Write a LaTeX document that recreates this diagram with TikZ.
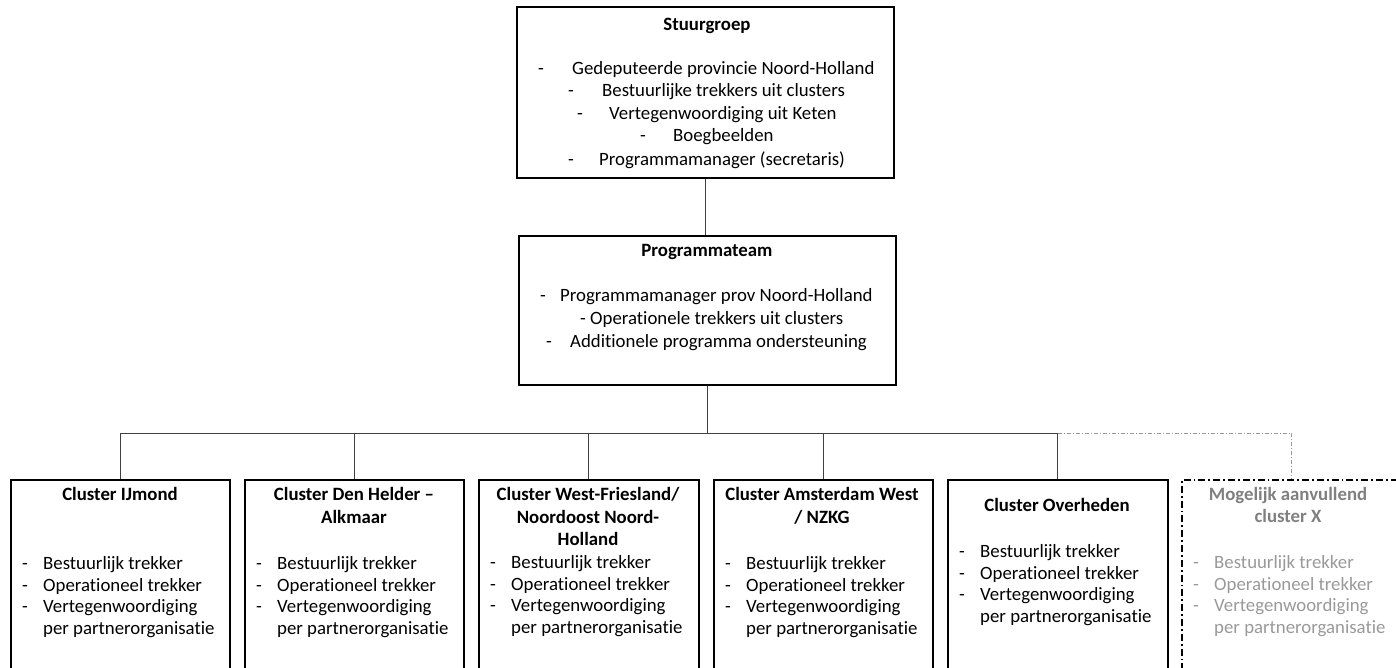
\documentclass[tikz,border=0pt]{standalone}
\usepackage{fontspec}
\setmainfont[Ligatures={NoCommon}]{Carlito}
\begin{document}
\begin{tikzpicture}[x=1pt,y=-1pt,
  box/.style={draw=black,line width=1.6pt,anchor=north west,inner sep=0pt},
  xbox/.style={draw=black,line width=1.6pt,dash pattern=on 7pt off 3pt on 1.8pt off 3pt,anchor=north west,inner sep=0pt},
  txt/.style={inner sep=0pt,font=\fontsize{18.8}{22}\selectfont},
  ttl/.style={txt,font=\fontsize{18.8}{22}\selectfont\bfseries,anchor=mid},
  conn/.style={draw=black!75,line width=0.9pt},
  dconn/.style={draw=black!40,line width=0.9pt,dash pattern=on 4pt off 2pt on 1pt off 2pt},
  greyt/.style={text=black!50},
  grey/.style={text=black!40}]
\useasboundingbox (0,0) rectangle (1396,667);
\clip (0,0) rectangle (1396,667);

% Stuurgroep
\node[box,minimum width=377pt,minimum height=171pt] (stg) at (516,6) {};
\node[ttl] (stgT) at (707,28) {Stuurgroep};
\node[txt,anchor=mid west] (s1d) at (538,72) {-};
\node[txt,anchor=mid west] (s1t) at (572,72) {Gedeputeerde provincie Noord-Holland};
\node[txt,anchor=mid west] (s2d) at (568,94) {-};
\node[txt,anchor=mid west] (s2t) at (602,94) {Bestuurlijke trekkers uit clusters};
\node[txt,anchor=mid west] (s3d) at (577,117) {-};
\node[txt,anchor=mid west] (s3t) at (609,117) {Vertegenwoordiging uit Keten};
\node[txt,anchor=mid west] (s4d) at (640,139) {-};
\node[txt,anchor=mid west] (s4t) at (673,139) {Boegbeelden};
\node[txt,anchor=mid west] (s5d) at (568,163) {-};
\node[txt,anchor=mid west] (s5t) at (599,163) {Programmamanager (secretaris)};

% Programmateam
\node[box,minimum width=377pt,minimum height=149pt] (pt) at (518,235) {};
\node[ttl] (ptT) at (707,254) {Programmateam};
\node[txt,anchor=mid west] (p1d) at (540,299) {-};
\node[txt,anchor=mid west] (p1t) at (560,299) {Programmamanager prov Noord-Holland};
\node[txt,anchor=mid west] (p2d) at (580,322) {-};
\node[txt,anchor=mid west] (p2t) at (590,322) {Operationele trekkers uit clusters};
\node[txt,anchor=mid west] (p3d) at (546,345) {-};
\node[txt,anchor=mid west] (p3t) at (570,345) {Additionele programma ondersteuning};

% Clusters
\node[box,minimum width=219pt,minimum height=220pt] (c1) at (10,479) {};
\node[box,minimum width=219pt,minimum height=220pt] (c2) at (244,479) {};
\node[box,minimum width=220pt,minimum height=220pt] (c3) at (478,479) {};
\node[box,minimum width=219pt,minimum height=220pt] (c4) at (713,479) {};
\node[box,minimum width=220pt,minimum height=220pt] (c5) at (947,479) {};
\node[xbox,minimum width=220pt,minimum height=220pt] (c6) at (1181,479) {};

\node[ttl] (c1T) at (120,498) {Cluster IJmond};
\node[ttl] (c2Ta) at (354,498) {Cluster Den Helder --};
\node[ttl] (c2Tb) at (354,521) {Alkmaar};
\node[ttl] (c3Ta) at (588,498) {Cluster West-Friesland/};
\node[ttl] (c3Tb) at (588,521) {Noordoost Noord-};
\node[ttl] (c3Tc) at (588,543) {Holland};
\node[ttl] (c4Ta) at (822,498) {Cluster Amsterdam West};
\node[ttl] (c4Tb) at (822,521) {/ NZKG};
\node[ttl] (c5T) at (1057,509) {Cluster Overheden};
\node[ttl,greyt] (c6Ta) at (1288,498) {Mogelijk aanvullend};
\node[ttl,greyt] (c6Tb) at (1288,520) {cluster X};

\newcommand\clist[4]{%
  \foreach \t [count=\k] in {Bestuurlijk trekker,Operationeel trekker,Vertegenwoordiging}{
    \node[txt,#4,anchor=mid west] (#1d\k) at ({#2+12},{#3+(\k-1)*21.8}) {-};
    \node[txt,#4,anchor=mid west] (#1t\k) at ({#2+33},{#3+(\k-1)*21.8}) {\t};
  }
  \node[txt,#4,anchor=mid west] (#1t4) at ({#2+33},{#3+65.4}) {per partnerorganisatie};
}
\clist{l1}{10}{567}{}
\clist{l2}{244}{567}{}
\clist{l3}{478}{566}{}
\clist{l4}{713}{567}{}
\clist{l5}{947}{555}{}
\clist{l6}{1181}{566}{grey}

% Connectors
\coordinate (bus) at (707,433);
\draw[conn] (stg.south) -- (stg.south |- pt.north);
\draw[conn] (pt.south) -- (pt.south |- bus);
\draw[dconn] (c5.north |- bus) -- (c6.north |- bus) -- (c6.north);
\draw[conn] (c1.north) -- (c1.north |- bus) -- (c5.north |- bus) -- (c5.north);
\draw[conn] (c2.north) -- (c2.north |- bus);
\draw[conn] (c3.north) -- (c3.north |- bus);
\draw[conn] (c4.north) -- (c4.north |- bus);
\end{tikzpicture}
\end{document}
